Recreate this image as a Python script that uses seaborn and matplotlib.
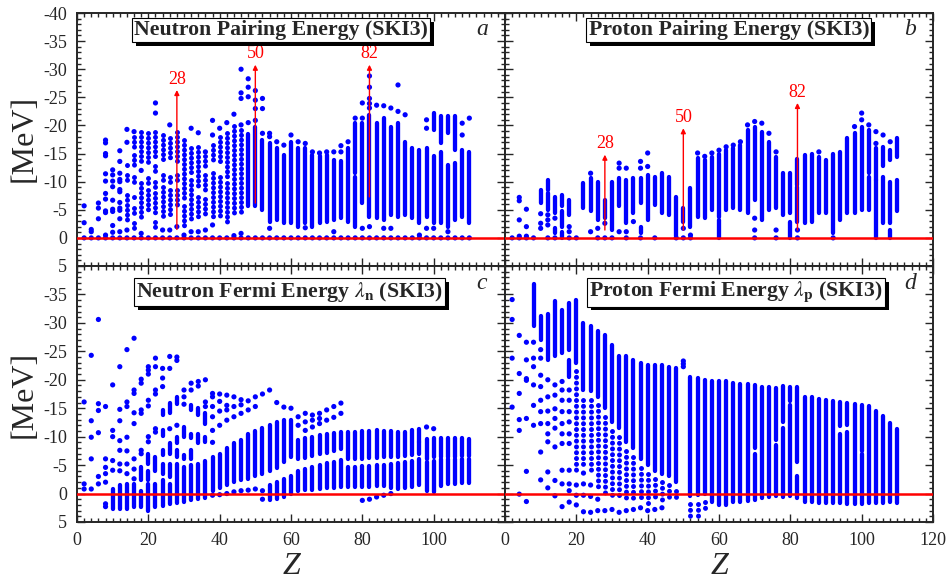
import matplotlib
matplotlib.use("Agg")
import matplotlib.pyplot as plt
import matplotlib.patheffects as pe
from matplotlib.ticker import MultipleLocator
import seaborn as sns

sns.set_style("ticks")
plt.rcParams['font.family'] = ['Liberation Serif', 'DejaVu Serif']
plt.rcParams['mathtext.fontset'] = 'stix'

# ---------------- data ----------------
# each Z column: float = single nucleus dot, (lo, hi) = dense run of dots,
# ('d', lo, hi) = sparse dotted run
pairing_n = {
    2: [-5.7, -2.7, 0], 4: [-1.5, -1.1, 0], 6: [-6.2, -5.3, -3.4, 0],
    8: [-17.4, -16.9, -15.0, -14.6, -11.4, -10.1, -7.9, -6.9, -4.8, -4.5, -0.5, 0],
    10: [-12.1, -11.2, -10.1, -9.1, -6.7, -5.1, -4.7, -2.2, -1.0, 0],
    12: [-15.5, -13.6, -11.5, -10.4, -10.0, -8.6, -8.2, -6.3, -5.3, -4.9, -3.4, -1.1, 0],
    14: [-19.3, -17.0, (-13, -12.2), (-11.2, -10.3), (-7.6, -6.7), (-5.9, -2.9), -1.4, 0],
    16: [-18.9, (-18, -15.6), (-14.8, -13), (-10.9, -10), (-7.3, -6.5), (-5.3, -3.8), (-2.6, -1.4), 0],
    18: [(-18.9, -13.3), -12, (-9.7, -3.8), -0.8, 0],
    20: [(-18.6, -12.7), (-10.6, -9.1), (-8.5, -4.5), 0],
    22: [-24, -22.2, (-18.9, -13.9), (-12.7, -11.8), (-10, -8.5), (-7.9, -3.8), (-2.9, -2), 0],
    24: [(-18.3, -13.6), (-11.2, -10.2), (-9.1, -3.2), -1.4, 0],
    26: [-20.1, (-17.7, -13.6), (-10.9, -10), (-8.5, -3.5), -1.4, 0],
    28: [(-18.9, -15.3), (-14.5, -13), (-11.2, -10), (-8.5, -5.9), -2, 0],
    30: [(-17.4, -6.5), (-5.6, -1.4), -0.5, 0],
    32: [-19.5, (-16, -11), (-10.3, -2.6), -1.1, 0],
    34: [-18.7, (-16.2, -8.5), (-7.3, -3.2), -1.1, 0],
    36: [-15.3, (-14.5, -12.4), (-11.2, -8.5), (-7, -3.8), -1.4, 0],
    38: [-20.9, -18.3, (-16.5, -13.3), (-11.5, -3.5), -2.3, 0],
    40: [-19.5, (-18, -13.3), (-10.9, -3.5), 0],
    42: [-20.5, (-18.6, -10.3), (-9.7, -2.6), 0],
    44: [-22, (-19.9, -4.1), -0.4, 0],
    46: [-30, -25.8, -24.8, -20.1, (-19.2, -4.4), -0.8, 0],
    48: [-28.3, -26.8, -25.1, -20.5, (-18.5, -5.6), 0],
    50: [-26.2, -24.5, -23, -20.9, (-19.8, -5.6), 0],
    52: [-24.8, -23, -18.6, (-17.4, -5), 0],
    54: [-18.6, -18, (-16.8, -2.9), -1.7, 0],
    56: [-17.1, (-16, -3.2), 0],
    58: [-16.5, (-14.8, -2.6), 0],
    60: [-18.3, (-17, -2.6), 0],
    62: [-17.1, (-16, -2), 0],
    64: [-16.8, (-16, -2.6), -1.8, 0],
    66: [-15.3, (-14.8, -2), 0],
    68: [-15.1, (-14.5, -2.6), 0],
    70: [-15.3, (-14.8, -2.9), 0],
    72: [-15.3, (-13.9, -3.2), -1.1, 0],
    74: [-16.4, -15.3, (-13.6, -3.5), 0],
    76: [-17.1, (-16, -2.9), 0],
    78: [-21.3, (-20.4, -11.5), (-10.9, -2), 0],
    80: [-24, -21.3, (-20.4, -6.2), -1.7, 0],
    82: [-28.8, -26.8, -24.8, -23.9, -23.1, (-21.9, -3.8), -2, 0],
    84: [-23.6, (-20.4, -3.5), 0],
    86: [-23.5, (-21.3, -3.2), -1.7, 0],
    88: [-23.1, (-19.8, -4.1), -1.7, 0],
    90: [-27.2, -22.5, (-20.4, -3.8), 0],
    92: [-21.9, (-17.1, -4.1), 0],
    94: [(-16, -3.5), 0],
    96: [(-15.6, -2.6), -0.5, 0],
    98: [-21, -19.5, (-16, -3.8), -1.7, 0],
    100: [(-22.2, -19.2), (-14.5, -2.6), -1.7, 0],
    102: [(-21.6, -16.8), (-15.3, -2.6), 0],
    104: [(-21.7, -18.6), (-13, -2), -1.1, 0],
    106: [(-21.7, -15.6), (-13.3, -3.2), 0],
    108: [-20.4, -18.3, (-15.6, -3.8), 0],
    110: [-21.3, (-15.3, -2.6), 0],
}

pairing_p = {
    2: [0], 4: [-7.2, -6.6, -3.2, -0.3, 0], 6: [-5.1, -2, -0.3, 0], 8: [0],
    10: [(-8.6, -6.2), -4.3, -2.6, -1.7],
    12: [(-10.3, -8.5), (-7.9, -5), -4.1, -3.2, -2.3, 0],
    14: [(-7.3, -4.4), -3.5, (-1.8, -0.8), 0],
    16: [(-7.6, -5.6), (-4.7, -2), (-1.1, 0)],
    18: [(-6.7, -4.1), -2, -1.1, 0],
    20: [0],
    22: [(-9.7, -5.3)],
    24: [-11.5, (-10.6, -4.7), -1.1],
    26: [(-10, -3.2), -1.7, 0],
    28: [(-6.7, -3.5), -2.6, 0],
    30: [(-10, -1.4), 0],
    32: [-13.3, -12.4, (-10.6, -5.6), -1.1],
    34: [-12.4, (-10.3, -2.6), -1.1, 0],
    36: [(-10.6, -4.4), -2.9],
    38: [-13.6, -12.4, (-10.6, -6.2), (-1.9, -0.8), 0],
    40: [-15.1, -12.7, (-11.2, -3.2)],
    42: [(-10.9, -5.9), 0],
    44: [(-11.5, -4.4)],
    46: [(-10.9, -4.1)],
    48: [(-7.3, -0.3), 0],
    50: [(-5.3, -2.9), -1.7, 0],
    52: [(-8.8, -2), -0.5, 0],
    54: [-15.1, (-14.2, -3.8)],
    56: [-14.5, (-13.8, -3.5)],
    58: [-15.1, (-14.4, -5)],
    60: [-15.6, (-15, -3.8), (-3.2, 0)],
    62: [-16.2, (-15.6, -5)],
    64: [-16.5, (-15.9, -5.3)],
    66: [-17.1, (-16.5, -5)],
    68: [-20.1, (-19.2, -4.4)],
    70: [-20.7, (-19.8, -6.7), -3.5, -1.4, 0],
    72: [-20.4, (-18.9, -3.2)],
    74: [-18.6, (-17.1, -5)],
    76: [-15.3, (-14.4, -5.3), -1.4, 0],
    78: [(-11.5, -4.1)],
    80: [(-11.5, -4.4), (-2.9, 0)],
    82: [(-14.1, -9.4), (-9.1, -2.9), -1.4, 0],
    84: [(-14.7, -2.6)],
    86: [(-15, -2.9)],
    88: [-15.3, (-14.4, -4.4)],
    90: [(-13.9, -4.4)],
    92: [(-15, -0.8), 0],
    94: [(-15.3, -3.2)],
    96: [(-17.7, -4.4)],
    98: [-19.8, (-18.6, -4.4)],
    100: [-22.2, -21, (-19.8, -5)],
    102: [-20.1, (-19.2, -11.5), (-10.9, -5)],
    104: [-18.9, -16.8, (-15.9, -10.3), (-10.3, 0)],
    106: [-18.3, (-16.2, -12.7), (-10.9, -2.6)],
    108: [-17.1, (-15.6, -13.9), (-10, -2.6), (-1.4, 0)],
    110: [(-17.7, -14.4), (-10.3, -4.7)],
}

fermi_n = {
    2: [-16.1, -1.7, -0.8],
    4: [-24.3, -12.8, -9.9, -6.1, -0.8],
    6: [-30.6, -15.8, -14.6, -10.7, -3.0, -1.7],
    8: [-15.3, -6.1, -4.6, -3.5, -2.0, 1.8, 2.3],
    10: [-19.1, -11.1, -10.0, -5.8, -4.1, (-0.8, 2.7)],
    12: [-22.3, -14.8, -12.8, -9.3, -7.6, -5.2, -4.0, (-1.5, 2.7)],
    14: [-25.3, -16.1, -15.3, -9.9, -7.5, -5.2, -3.5, (-1.7, 2.7)],
    16: [-27.3, -18.2, -17.6, -14.2, -12.3, -6.1, -4.3, -2.6, (-1.7, 2.4)],
    18: [-20.1, -19.4, -14.7, -14.1, -7.6, -7.0, (-4.6, -2.3), (-0.5, 2.4)],
    20: [-22.3, -21.7, -21.0, -16.4, -15.4, -10.0, -9.1, (-7, -5.2), (-4, -2.3), (-1.7, 3.0)],
    22: [-23.8, -22.3, -18.2, -17.5, -11.4, -10.8, (-6.4, -4.0), (-1.7, 2.4)],
    24: [-22.0, -20.3, -18.8, (-14.7, -13.8), (-11.1, -10.2), (-7.6, -6.7), (-5.2, -3.5), (-2.3, 2.1)],
    26: [-24.1, -22.0, (-15.9, -14.1), -11.4, (-8.8, -7.0), (-5.2, -2.9), (-1.7, 1.8)],
    28: [-24.0, -23.4, (-17, -15.8), -12.0, (-9.9, -8.8), (-7.6, -6.4), (-5.2, 1.6)],
    30: [-18.2, -17.0, -15.7, (-11.7, -10.0), (-6.7, -6.1), (-4.6, 1.5)],
    32: [-19.4, -18.2, (-15.6, -14.7), (-10.5, -9.7), (-7.6, -6.1), (-5, 1.2)],
    34: [-19.7, -18.9, (-15, -13.8), (-10.5, -8.8), (-5.2, 0.9)],
    36: [-20.0, -16.1, -15.3, (-14.1, -12.3), (-10, -9), (-5.8, 0.7)],
    38: [-17.6, -17.0, -15.3, -13.5, -11.1, -9.0, (-6.5, -0.5), 0.3],
    40: [-17.5, -16.2, -14.5, -12.0, (-7.0, -1.0), 0.2],
    42: [-17.3, -15.5, -14.7, -12.9, (-8.0, -1.5), 0.0],
    44: [-17.0, -15.3, -13.5, (-8.8, -2.0), -0.3],
    46: [-16.5, -15.6, -14.1, (-9.5, -2.3), -0.5],
    48: [-16.3, -14.7, (-10.5, -2.6), -0.6],
    50: [-17.0, -15.3, (-11.0, -3.0), -0.8],
    52: [-17.5, (-11.5, -3.5), -0.5, 1.0],
    54: [-18.2, (-12.0, -4.0), (-1.5, 1.2)],
    56: [-16.0, (-12.5, -4.5), (-2.0, 0.9)],
    58: [-15.2, (-13.0, -5.5), (-2.5, 0.6)],
    60: [-15.0, (-13.0, -6.4), (-3.0, 0.1)],
    62: [-13.5, -12.0, (-9.5, -6.0), (-4.0, -0.5)],
    64: [-14.1, -12.6, -11.1, (-9.8, -6.3), (-4.3, -0.6)],
    66: [-13.8, -12.9, -11.7, (-10.0, -6.6), (-4.6, -0.7)],
    68: [-14.1, -13.2, -12.3, (-10.3, -6.9), (-5.0, -0.8)],
    70: [-14.7, -12.9, (-10.5, -7.2), (-5.3, -0.9)],
    72: [-15.3, -13.4, (-10.7, -7.5), (-5.6, -1.0)],
    74: [-15.9, -14.1, (-10.8, -7.8), (-5.9, -1.1)],
    76: [(-10.8, -6.0), (-4.6, -1.1)],
    78: [(-10.9, -6.0), (-4.7, -1.1)],
    80: [(-11.0, -6.1), (-4.8, -1.2), 1.2],
    82: [(-11.0, -6.2), (-4.9, -1.2), 1.0],
    84: [(-11.1, -6.3), (-5.0, -1.3), 0.6],
    86: [(-11.0, -6.4), (-5.1, -1.3), 0.3],
    88: [(-11.0, -6.5), (-5.2, -1.0), 0.0],
    90: [(-10.8, -6.5), (-5.3, -0.8)],
    92: [(-10.9, -6.6), (-5.5, -1.0)],
    94: [(-11.2, -6.8), (-5.8, -1.2)],
    96: [(-11.4, -9.1), (-9.0, -7.0), (-6.0, -1.5)],
    98: [-11.7, (-9.6, -6.1), (-5.5, -0.5)],
    100: [-11.4, (-9.8, -6.4), (-5.8, -0.2)],
    102: [(-9.8, -6.5), (-6.0, -1.4)],
    104: [(-9.8, -6.5), (-6.0, -1.6)],
    106: [(-9.7, -6.5), (-6.0, -1.7)],
    108: [(-9.7, -6.6), (-6.0, -1.8)],
    110: [(-9.6, -6.6), (-6.0, -1.9)],
}

fermi_p = {
    2: [-34.1, -30.6, -23.8, -15.2],
    4: [-27.8, -21.1, -17.6, -13.0, -11.1, 0.1],
    6: [-26.6, -23.5, -20.2, -19.9, -13.2, -3.9, 1.4],
    8: [(-36.8, -29.4), -26.6, -23.8, -22.3, -19.1, -15.5, -12.0],
    10: [(-31.2, -27.0), -25.3, -23.8, -20.8, -18.8, -16.4, -14.4, -12.3, -7.3, -2.4],
    12: [(-31.5, -23.5), -20.0, -17.0, -14.5, -12.3, -10.5, -9.1, -3.8, -1.0],
    14: [(-33.8, -24.1), -19.1, -17.3, -14.9, -13.2, -11.5, -8.2, -2.3, 0.4],
    16: [(-32.3, -24.7), -19.7, -18.2, -16.4, -14.4, -12.3, -10.5, -8.8, -4.1, -1.7, 2.3],
    18: [(-33.5, -25.3), (-23.5, -20.5), -18.2, -16.4, -14.4, -12.6, -10.5, -8.8, -4.1, -1.7, -0.5, 1.5],
    20: [(-34.1, -23.0), ('d', -21.5, -4.0), -1.5, 0.3, 2.0],
    22: [(-30.0, -18.2), ('d', -16.5, -5.2), -3.6, -1.7, 0.3, 3.2],
    24: [(-29.4, -18.0), ('d', -16.5, -3.5), -1.5, 0.5, 3.3],
    26: [(-28.5, -17.0), ('d', -15.5, -1.0), 1.0, 3.0],
    28: [(-27.9, -15.0), ('d', -13.5, 0.5), 3.0],
    30: [(-26.2, -12.5), ('d', -11.0, 0.5), 2.8],
    32: [(-24.1, -11.5), ('d', -10.0, 1.2), 3.3],
    34: [(-24.1, -9.0), ('d', -7.5, 1.0), 3.0],
    36: [(-23.5, -8.0), ('d', -6.5, 1.5), 2.8],
    38: [(-23.0, -6.0), ('d', -4.5, 1.2), 2.5],
    40: [(-22.6, -5.0), ('d', -3.5, 2.0), 3.0],
    42: [(-22.6, -4.0), ('d', -2.5, 1.5), 2.8],
    44: [(-22.6, -3.5), ('d', -2.0, 1.5), 2.5],
    46: [(-22.3, -3.0), ('d', -1.5, 1.5)],
    48: [(-22.0, -2.0), ('d', -0.5, 1.2)],
    50: [-23.3, -22.8, -22.3],
    52: [(-20.5, 0.5), ('d', 1.8, 4.2)],
    54: [(-20.3, 0.3), ('d', 1.8, 4.2)],
    56: [(-20.0, 0.0), ('d', 1.5, 3.3)],
    58: [(-19.8, 1.5)],
    60: [(-19.7, 2.0)],
    62: [(-19.8, 2.0)],
    64: [(-19.4, 1.5)],
    66: [(-19.3, 1.4)],
    68: [(-19.2, 1.3)],
    70: [(-19.0, -8.0), (-7.0, 1.2)],
    72: [(-18.8, 0.8)],
    74: [(-18.7, 0.6)],
    76: [(-18.6, -9.5), (-8.5, 0.5)],
    78: [(-18.9, -12.5), (-11.5, 0.6)],
    80: [(-18.7, -16.2), (-15.5, 0.5)],
    82: [(-18.7, -5.5), (-3.0, 0.8)],
    84: [(-17.0, 1.5)],
    86: [(-17.0, 1.5)],
    88: [(-16.7, 1.6)],
    90: [(-16.5, 1.6)],
    92: [(-16.3, 1.7)],
    94: [(-16.1, -11.8), (-10.5, 1.7)],
    96: [(-16.0, -12.0), (-10.8, 1.8)],
    98: [(-15.7, 1.8)],
    100: [(-15.6, -7.5), (-7.0, 1.8)],
    102: [(-15.4, 1.6)],
    104: [(-14.5, 1.6)],
    106: [(-13.6, 1.6)],
    108: [(-12.4, 1.5)],
    110: [(-11.3, 1.6)],
}

magic_z = [28, 50, 82]
magic_labels = ["28", "50", "82"]
arrows_n_base = [-1.5, -6.2, -7.3]
arrows_n_tip = [-26.3, -30.8, -30.8]
arrows_p_base = [-1.4, -1.4, -1.4]
arrows_p_tip = [-14.8, -19.5, -24.0]

titles = ["Neutron Pairing Energy (SKI3)", "Proton Pairing Energy (SKI3)",
          r"Neutron Fermi Energy $\lambda_{\mathbf{n}}$ (SKI3)",
          r"Proton Fermi Energy $\lambda_{\mathbf{p}}$ (SKI3)"]
title_z = [57.3, 62.8, 59.6, 64.7]
title_e = [-37.0, -37.0, -35.4, -35.4]
letters = ["a", "b", "c", "d"]

# style: columns below this Z are drawn as bead-like stacks of dots
beaded_below = [47, 0, 0, 0]

BLUE = "#0000ff"
W, H = 952, 583
fig = plt.figure(figsize=(W / 100, H / 100), dpi=100)


def px_axes(x0, x1, y0, y1):
    return fig.add_axes([x0 / W, 1 - y1 / H, (x1 - x0) / W, (y1 - y0) / H])


ax_a = px_axes(77, 505, 13, 266)
ax_b = px_axes(505, 933, 13, 266)
ax_c = px_axes(77, 505, 266, 522)
ax_d = px_axes(505, 933, 266, 522)
axes = [ax_a, ax_b, ax_c, ax_d]
datasets = [pairing_n, pairing_p, fermi_n, fermi_p]

LW = 3.1
LW_DOT = 3.6


def runs(ax, z, lo, hi, dash=None):
    if not z:
        return
    kw = dict(colors=BLUE, linewidth=LW if dash is None else LW_DOT, zorder=3)
    if dash is not None:
        kw['linestyles'] = [(0, (0.01, dash))]
    lc = ax.vlines(z, lo, hi, **kw)
    lc.set_capstyle('round')


def draw(ax, cols, zbead):
    dz, de = [], []
    s = {'solid': ([], [], []), 'bead': ([], [], []), 'dot': ([], [], [])}
    for z, items in cols.items():
        for it in items:
            if isinstance(it, tuple) and len(it) == 3:
                key, lo, hi = 'dot', it[1], it[2]
            elif isinstance(it, tuple):
                key = 'bead' if z < zbead else 'solid'
                lo, hi = it
            else:
                dz.append(z); de.append(it)
                continue
            s[key][0].append(z); s[key][1].append(lo); s[key][2].append(hi)
    runs(ax, *s['solid'])
    runs(ax, *s['bead'], dash=0.95)
    runs(ax, *s['dot'], dash=1.15)
    sns.scatterplot(x=dz, y=de, ax=ax, s=14, color=BLUE, edgecolor='none',
                    linewidth=0, zorder=3, legend=False)


for i, (ax, data) in enumerate(zip(axes, datasets)):
    draw(ax, data, beaded_below[i])
    ax.axhline(0, color='red', lw=1.8, zorder=4)
    ax.set_xlim(0, 120)
    ax.set_ylim(5, -40)
    ax.xaxis.set_major_locator(MultipleLocator(20))
    ax.xaxis.set_minor_locator(MultipleLocator(2))
    ax.yaxis.set_major_locator(MultipleLocator(5))
    ax.yaxis.set_minor_locator(MultipleLocator(1))
    ax.tick_params(which='both', direction='in', top=True, right=True,
                   labelsize=13, width=1.0, pad=7)
    ax.tick_params(which='major', length=6)
    ax.tick_params(which='minor', length=3)
    for sp in ax.spines.values():
        sp.set_linewidth(1.4)
    ax.set_xlabel("")
    ax.set_ylabel("")
    t = ax.text(title_z[i], title_e[i], titles[i], ha='center', va='center',
                fontsize=15.7, fontweight='bold', zorder=6,
                bbox=dict(boxstyle='square,pad=0.1', fc='white', ec='black', lw=0.8))
    t.get_bbox_patch().set_path_effects(
        [pe.withSimplePatchShadow(offset=(2.8, -2.8), shadow_rgbFace='black', alpha=1.0)])
    ax.text(113.5, -37.0, letters[i], ha='center', va='center', fontsize=17,
            fontstyle='italic', zorder=6)

# tick labels
ax_a.tick_params(labelbottom=False)
ax_b.tick_params(labelbottom=False, labelleft=False)
ax_d.tick_params(labelleft=False)
ax_a.set_yticks(range(-40, 6, 5))
ax_a.set_yticklabels([str(v) for v in range(-40, 6, 5)])
ax_c.set_yticks(range(-40, 6, 5))
ax_c.set_yticklabels([''] + [str(v) for v in range(-35, 6, 5)])
ax_c.set_xticks(range(0, 121, 20))
ax_c.set_xticklabels([str(v) for v in range(0, 101, 20)] + [''])

# magic-number arrows
for ax, base, tip in [(ax_a, arrows_n_base, arrows_n_tip), (ax_b, arrows_p_base, arrows_p_tip)]:
    for z, b, tp, lab in zip(magic_z, base, tip, magic_labels):
        ax.annotate('', xy=(z, tp), xytext=(z, b),
                    arrowprops=dict(arrowstyle='-|>', color='red', lw=1.0,
                                    mutation_scale=7, shrinkA=0, shrinkB=0), zorder=5)
        ax.text(z, tp - 0.4, lab, color='red', ha='center', va='bottom', fontsize=13, zorder=5)

# axis labels
for yc in [138, 394]:
    fig.text(24 / W, 1 - yc / H, "[MeV]", rotation=90, ha='center', va='center', fontsize=23)
for xc in [291, 719]:
    fig.text(xc / W, 1 - 567 / H, "Z", ha='center', va='center', fontsize=23, fontstyle='italic')

fig.savefig("out.png", dpi=100)
